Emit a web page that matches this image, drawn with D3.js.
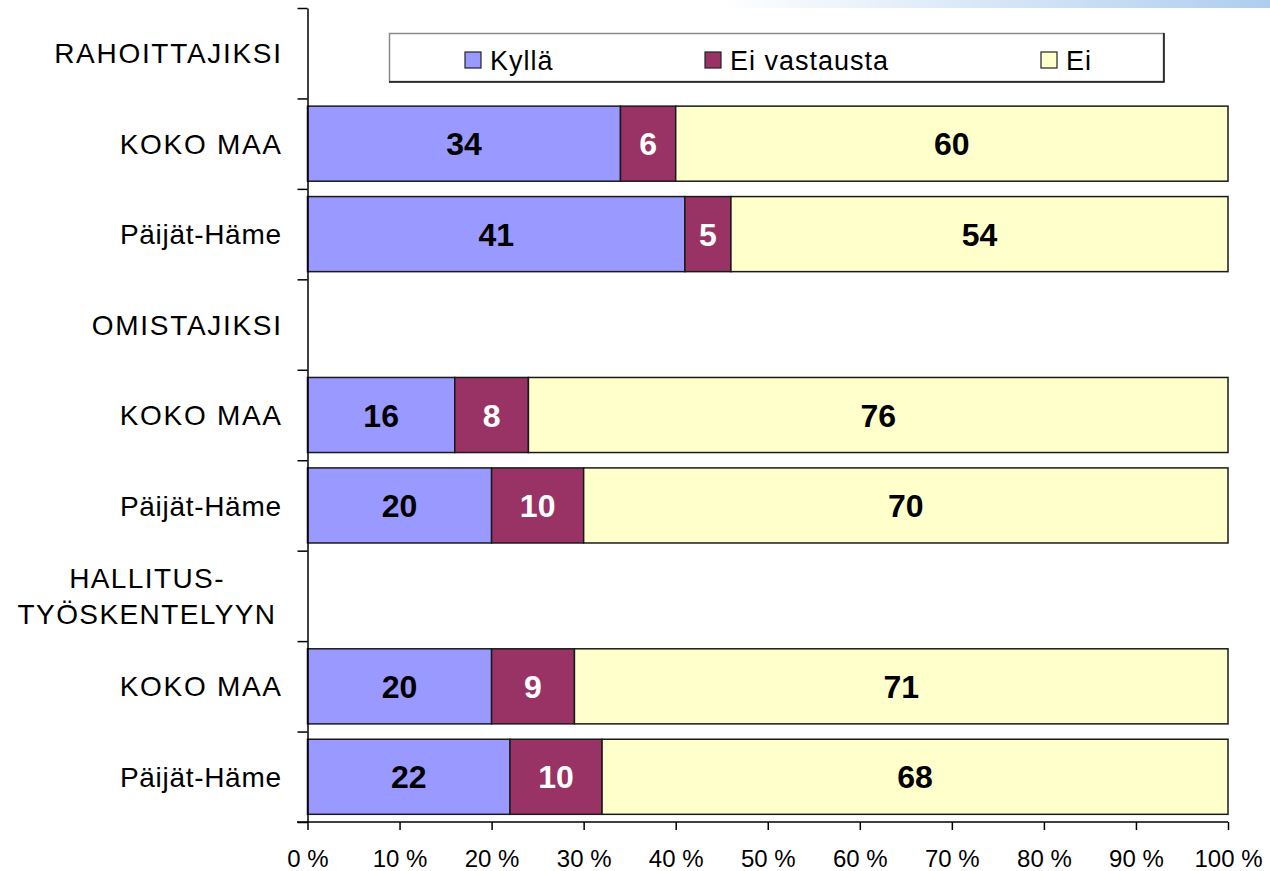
<!DOCTYPE html>
<html>
<head>
<meta charset="utf-8">
<script src="https://cdn.jsdelivr.net/npm/d3@7"></script>
<style>
  html, body { margin: 0; padding: 0; background: #fff; }
  svg { display: block; font-family: "Liberation Sans", Arial, sans-serif; }
</style>
</head>
<body>
<svg id="chart" width="1270" height="871"></svg>
<script>
// ---- data ----
const categories = ["RAHOITTAJIKSI", "KOKO MAA", "Päijät-Häme", "OMISTAJIKSI", "KOKO MAA", "Päijät-Häme", "HALLITUS-\nTYÖSKENTELYYN", "KOKO MAA", "Päijät-Häme"];
const kylla       = [null, 34, 41, null, 16, 20, null, 20, 22];
const eiVastausta = [null, 6, 5, null, 8, 10, null, 9, 10];
const ei          = [null, 60, 54, null, 76, 70, null, 71, 68];
const seriesNames = ["Kyllä", "Ei vastausta", "Ei"];
const seriesColors = ["#9999FF", "#993366", "#FFFFCC"];
const labelColors = ["#000", "#fff", "#000"];
const xTicks = [0, 10, 20, 30, 40, 50, 60, 70, 80, 90, 100];

// ---- layout ----
const svg = d3.select("#chart");
const plotLeft = 307.5, plotRight = 1228, plotTop = 8, plotBottom = 822;

// top decorative gradient strip
const defs = svg.append("defs");
const grad = defs.append("linearGradient").attr("id", "topgrad").attr("x1", "0").attr("x2", "1").attr("y1", "0").attr("y2", "0");
grad.append("stop").attr("offset", "0").attr("stop-color", "#ffffff");
grad.append("stop").attr("offset", "1").attr("stop-color", "#aecdef");
svg.append("rect").attr("x", 720).attr("y", 0).attr("width", 550).attr("height", 8).attr("fill", "url(#topgrad)");

const idx = d3.range(categories.length);
const y = d3.scaleBand().domain(idx).range([plotTop, plotBottom]).paddingInner(0.17).paddingOuter(0.085);
const x = d3.scaleLinear().domain([0, 100]).range([plotLeft, plotRight]);

// stacked data
const rows = idx.map(i => ({ i, kylla: kylla[i], eiVastausta: eiVastausta[i], ei: ei[i] }));
const keys = ["kylla", "eiVastausta", "ei"];
const stack = d3.stack().keys(keys).value((d, k) => d[k] == null ? 0 : d[k]);
const stacked = stack(rows.filter(r => r.kylla != null));

const layers = svg.append("g").selectAll("g").data(stacked).join("g")
  .attr("fill", (d, k) => seriesColors[k]);
layers.selectAll("rect").data(d => d).join("rect")
  .attr("x", d => x(d[0]))
  .attr("y", d => y(d.data.i))
  .attr("width", d => x(d[1]) - x(d[0]))
  .attr("height", y.bandwidth())
  .attr("stroke", "#1a1a1a")
  .attr("stroke-width", 1.5);

// value labels
stacked.forEach((layer, k) => {
  svg.append("g").selectAll("text").data(layer).join("text")
    .attr("x", d => (x(d[0]) + x(d[1])) / 2)
    .attr("y", d => y(d.data.i) + y.bandwidth() / 2)
    .attr("dy", "0.36em")
    .attr("text-anchor", "middle")
    .attr("font-size", 32)
    .attr("font-weight", "bold")
    .attr("fill", labelColors[k])
    .text(d => d[1] - d[0]);
});

// y axis (tick marks at band boundaries)
const yLin = d3.scaleLinear().domain([0, categories.length]).range([plotTop, plotBottom]);
const yAxis = svg.append("g").attr("transform", `translate(${plotLeft},0)`)
  .call(d3.axisLeft(yLin).tickValues(d3.range(categories.length + 1)).tickFormat("").tickSize(10).tickSizeOuter(0));
yAxis.selectAll("line").attr("stroke", "#000").attr("stroke-width", 1.5);
yAxis.select(".domain").attr("stroke", "#000").attr("stroke-width", 1.5);

// category labels
const catG = svg.append("g");
const spacingFor = s => (s === s.toUpperCase() ? 1.7 : 0.7);
idx.forEach(i => {
  const lines = categories[i].split("\n");
  const cy = y(i) + y.bandwidth() / 2;
  if (lines.length === 1) {
    catG.append("text")
      .attr("x", 281 + spacingFor(lines[0])).attr("y", cy).attr("dy", "0.36em")
      .attr("text-anchor", "end")
      .attr("font-size", 28).attr("letter-spacing", spacingFor(lines[0]) + "px")
      .attr("fill", "#000")
      .text(lines[0]);
  } else {
    const lh = 36;
    lines.forEach((ln, j) => {
      catG.append("text")
        .attr("x", 147).attr("y", cy + (j - (lines.length - 1) / 2) * lh).attr("dy", "0.36em")
        .attr("text-anchor", "middle")
        .attr("font-size", 28).attr("letter-spacing", "1.4px")
        .attr("fill", "#000")
        .text(ln);
    });
  }
});

// x axis
const xAxis = svg.append("g").attr("transform", `translate(0,${plotBottom})`)
  .call(d3.axisBottom(x).tickValues(xTicks).tickFormat(d => d + " %").tickSize(8).tickPadding(20));
xAxis.select(".domain").remove();
xAxis.selectAll("line").attr("stroke", "#000").attr("stroke-width", 1.5);
xAxis.selectAll("text").attr("font-size", 24).attr("fill", "#000").attr("font-family", "Liberation Sans, Arial, sans-serif");
svg.append("line").attr("x1", 297).attr("x2", plotRight).attr("y1", plotBottom).attr("y2", plotBottom)
  .attr("stroke", "#000").attr("stroke-width", 1.5);

// legend
const lg = svg.append("g");
lg.append("rect").attr("x", 389.5).attr("y", 33.5).attr("width", 774).attr("height", 48)
  .attr("fill", "#fff").attr("stroke", "#8a8a8a").attr("stroke-width", 1.5);
lg.append("path").attr("d", "M1164,33 V82 H389").attr("fill", "none").attr("stroke", "#111").attr("stroke-width", 1.5);
const legX = [465, 705, 1041];
seriesNames.forEach((name, k) => {
  lg.append("rect").attr("x", legX[k]).attr("y", 52).attr("width", 16).attr("height", 16)
    .attr("fill", seriesColors[k]).attr("stroke", "#222").attr("stroke-width", 1.2);
  lg.append("text").attr("x", legX[k] + 25).attr("y", 60).attr("dy", "0.36em")
    .attr("font-size", 27).attr("letter-spacing", "1px").attr("fill", "#000").text(name);
});
</script>
</body>
</html>
